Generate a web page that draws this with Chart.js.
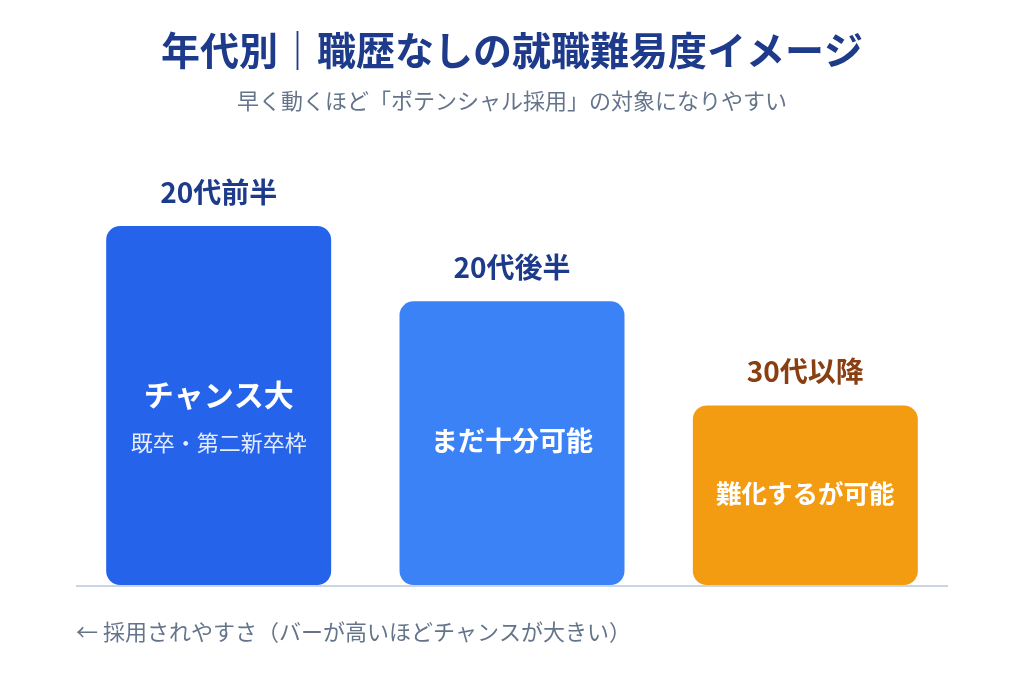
<!DOCTYPE html>
<html lang="ja">
<head>
<meta charset="utf-8">
<title>年代別｜職歴なしの就職難易度イメージ</title>
<script src="https://cdn.jsdelivr.net/npm/chart.js@4.4.1/dist/chart.umd.min.js"></script>
<style>
  html, body { margin: 0; padding: 0; background: #ffffff; }
  #wrap { width: 1024px; height: 692px; }
</style>
</head>
<body>
<div id="wrap"><canvas id="chart" width="1024" height="692"></canvas></div>
<script>
const FONT = '"Noto Sans CJK JP", "Noto Sans", sans-serif';

// データ
const categories = ['20代前半', '20代後半', '30代以降'];
const chanceValues = [100, 79, 50];
const barTexts = ['チャンス大', 'まだ十分可能', '難化するが可能'];
const barSubTexts = ['既卒・第二新卒枠', '', ''];

const titleText = '年代別｜職歴なしの就職難易度イメージ';
const subtitleText = '早く動くほど「ポテンシャル採用」の対象になりやすい';
const noteText = '← 採用されやすさ（バーが高いほどチャンスが大きい）';

const barColors = ['#2563eb', '#3b82f6', '#f39c12'];
const catColors = ['#1e3a8a', '#1e3a8a', '#8a3f12'];

// テキスト描画用プラグイン
const labelsPlugin = {
  id: 'labels',
  beforeDatasetsDraw(chart) {
    const { ctx, chartArea } = chart;
    ctx.save();
    ctx.strokeStyle = '#cbd5e1';
    ctx.lineWidth = 2;
    ctx.beginPath();
    ctx.moveTo(chartArea.left + 4, chartArea.bottom + 1);
    ctx.lineTo(chartArea.right - 4, chartArea.bottom + 1);
    ctx.stroke();
    ctx.restore();
  },
  afterDatasetsDraw(chart) {
    const { ctx, chartArea } = chart;
    const meta = chart.getDatasetMeta(0);
    ctx.save();
    ctx.textAlign = 'center';
    ctx.textBaseline = 'middle';

    // タイトル
    ctx.fillStyle = '#1e3a8a';
    ctx.font = 'bold 39px ' + FONT;
    ctx.fillText(titleText, chart.width / 2, 50);
    ctx.fillStyle = '#64748b';
    ctx.font = '22px ' + FONT;
    ctx.fillText(subtitleText, chart.width / 2, 101);

    meta.data.forEach((bar, i) => {
      // 上のラベル
      ctx.fillStyle = catColors[i];
      ctx.font = 'bold 28px ' + FONT;
      ctx.fillText(categories[i], bar.x, bar.y - 34);

      // バー内のテキスト
      const mid = (bar.y + bar.base) / 2;
      ctx.fillStyle = '#ffffff';
      if (barSubTexts[i]) {
        ctx.font = 'bold 30px ' + FONT;
        ctx.fillText(barTexts[i], bar.x, mid - 11);
        ctx.fillStyle = 'rgba(255,255,255,0.88)';
        ctx.font = '22px ' + FONT;
        ctx.fillText(barSubTexts[i], bar.x, mid + 37);
      } else {
        ctx.font = 'bold ' + (i === 1 ? 27 : 25.5) + 'px ' + FONT;
        ctx.fillText(barTexts[i], bar.x, mid - 2);
      }
    });

    // 注記
    ctx.textAlign = 'left';
    ctx.fillStyle = '#64748b';
    ctx.font = '22px ' + FONT;
    ctx.fillText(noteText, chartArea.left + 4, 632);
    ctx.restore();
  }
};

new Chart(document.getElementById('chart'), {
  type: 'bar',
  data: {
    labels: categories,
    datasets: [{
      data: chanceValues,
      backgroundColor: barColors,
      borderRadius: 14,
      borderSkipped: false,
      barPercentage: 0.767,
      categoryPercentage: 1
    }]
  },
  options: {
    responsive: false,
    animation: false,
    layout: { padding: { left: 72, right: 72, top: 190, bottom: 107 } },
    scales: {
      x: { display: false },
      y: { display: false, min: 0, max: 110 }
    },
    plugins: {
      legend: { display: false },
      tooltip: { enabled: false }
    }
  },
  plugins: [labelsPlugin]
});
</script>
</body>
</html>
